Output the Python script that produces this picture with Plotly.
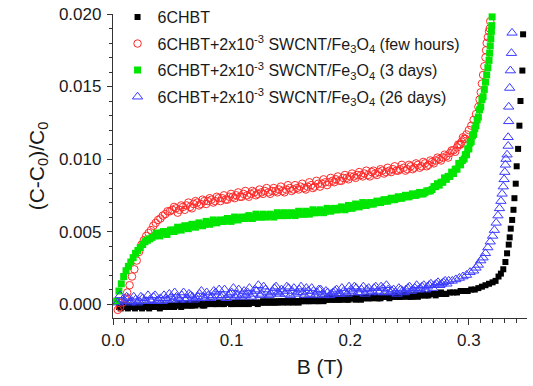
import plotly.graph_objects as go

# ---- data ----
black_B = [0.005,0.008,0.011,0.014,0.017,0.020,0.023,0.026,0.029,0.032,0.035,0.038,0.041,0.044,0.047,0.050,
           0.053,0.056,0.059,0.062,0.065,0.068,0.071,0.074,0.077,0.080,0.083,0.086,0.089,0.092,0.095,0.098,
           0.101,0.104,0.107,0.110,0.113,0.116,0.119,0.122,0.125,0.128,0.131,0.134,0.137,0.140,0.143,0.146,
           0.149,0.152,0.155,0.158,0.161,0.164,0.167,0.170,0.173,0.176,0.179,0.182,0.185,0.188,0.191,0.194,
           0.197,0.200,0.203,0.206,0.209,0.212,0.215,0.218,0.221,0.224,0.227,0.230,0.233,0.236,0.239,0.242,
           0.245,0.248,0.251,0.254,0.257,0.260,0.263,0.266,0.269,0.272,0.275,0.278,0.281,0.284,0.287,0.290,
           0.293,0.296,0.299,0.302,0.305,0.308,0.311,0.314,0.317,0.320,0.3225,0.325,0.327,0.329,0.3308,0.3322,
           0.3336,0.3344,0.3353,0.3365,0.3376,0.3384,0.3395,0.3403,0.3415,0.3426,0.3435,0.3451,0.3457]
black_C = [-0.0002,-0.0001,-0.0002,-0.0001,-0.0002,-0.0001,-0.0002,-0.0001,-0.0002,-0.0001,-0.0001,-0.0002,-0.0001,-0.0001,-0.0002,-0.0001,
           -0.0001,0.0000,-0.0001,0.0000,-0.0001,0.0000,0.0000,0.0000,-0.0001,0.0000,0.0001,0.0000,0.0001,0.0000,0.0001,0.0001,
           0.0000,0.0001,0.0001,0.0000,0.0001,0.0001,0.0001,0.0000,0.0001,0.0001,0.0002,0.0001,0.0001,0.0002,0.0001,0.0002,
           0.0002,0.0001,0.0002,0.0002,0.0002,0.0003,0.0002,0.0003,0.0002,0.0003,0.0003,0.0003,0.0004,0.0003,0.0003,0.0004,
           0.0003,0.0004,0.0004,0.0004,0.0003,0.0004,0.0004,0.0004,0.0005,0.0004,0.0005,0.0005,0.0004,0.0005,0.0005,0.0005,
           0.0006,0.0005,0.0005,0.0006,0.0005,0.0006,0.0006,0.0006,0.0007,0.0006,0.0007,0.0007,0.0007,0.0008,0.0008,0.0008,
           0.0009,0.0009,0.0009,0.0010,0.0010,0.0011,0.0012,0.0013,0.0014,0.0015,0.0016,0.0019,0.0021,0.0024,0.0029,0.0035,
           0.0041,0.0046,0.0052,0.0058,0.0065,0.0073,0.0083,0.0095,0.0107,0.0123,0.0140,0.0161,0.0186]
black_more = [(0.0065,-0.0003),(0.0095,-0.0001),(0.0125,-0.0003),(0.0155,-0.0002),(0.0185,-0.0003),(0.0215,-0.0002),
              (0.0245,-0.0003),(0.0275,-0.0002),(0.0305,-0.0003),(0.0335,-0.0002),(0.0365,-0.0002),(0.0395,-0.0003),
              (0.0425,-0.0002),(0.0455,-0.0002),(0.0485,-0.0001),(0.0515,-0.0002),(0.0545,-0.0001),(0.0575,-0.0002),
              (0.0605,-0.0001),(0.0635,-0.0001),(0.0665,-0.0001),(0.0695,-0.0001),(0.0725,0.0000),(0.0755,-0.0001),
              (0.0785,0.0000),(0.0815,0.0001),(0.0845,0.0000),(0.0875,0.0000),(0.0905,0.0001),(0.0935,0.0000),
              (0.0965,0.0001),(0.0995,0.0000),(0.1025,0.0001),(0.1055,0.0000),(0.1085,0.0001),(0.1115,0.0001),
              (0.1145,0.0000),(0.1175,0.0001),(0.1205,0.0001),(0.1235,0.0001),(0.1265,0.0002),(0.1295,0.0001),
              (0.1325,0.0001),(0.1355,0.0002),(0.1385,0.0001),(0.1415,0.0002),(0.1445,0.0002),(0.1475,0.0001),
              (0.1505,0.0002),(0.1535,0.0002),(0.1565,0.0001),(0.1595,0.0003),(0.1625,0.0002),(0.1655,0.0002),
              (0.1685,0.0003),(0.1715,0.0002),(0.1745,0.0003),(0.1775,0.0002),(0.1805,0.0004),(0.1835,0.0003),
              (0.1865,0.0003),(0.1895,0.0004),(0.1925,0.0003),(0.1955,0.0004),(0.1985,0.0003),(0.2015,0.0004),
              (0.2045,0.0003),(0.2075,0.0004),(0.2105,0.0004),(0.2135,0.0005),(0.2165,0.0004),(0.2195,0.0005),
              (0.2225,0.0004),(0.2255,0.0004),(0.2285,0.0005),(0.2315,0.0005),(0.2345,0.0005),(0.2375,0.0006),
              (0.2405,0.0005),(0.2435,0.0005),(0.2465,0.0006),(0.2495,0.0006),(0.2525,0.0005),(0.2555,0.0006),
              (0.2585,0.0006),(0.2615,0.0007),(0.2645,0.0006),(0.2675,0.0007),(0.2705,0.0007),(0.2735,0.0007),
              (0.2765,0.0008),(0.2795,0.0007)]

red_B = [0.004,0.006,0.008,0.010,0.012,0.014,0.016,0.018,0.020,0.022,0.024,0.026,0.028,0.030,0.032,0.034,
         0.036,0.038,0.040,0.042,0.044,0.046,0.048,0.050,0.053,0.056,0.059,0.062,0.065,0.068,0.071,0.074,
         0.077,0.080,0.083,0.086,0.089,0.092,0.095,0.098,0.101,0.104,0.107,0.110,0.113,0.116,0.119,0.122,
         0.125,0.128,0.131,0.134,0.137,0.140,0.143,0.146,0.149,0.152,0.155,0.158,0.161,0.164,0.167,0.170,
         0.173,0.176,0.179,0.182,0.185,0.188,0.191,0.194,0.197,0.200,0.203,0.206,0.209,0.212,0.215,0.218,
         0.221,0.224,0.227,0.230,0.233,0.236,0.239,0.242,0.245,0.248,0.251,0.254,0.257,0.260,0.263,0.266,
         0.269,0.272,0.275,0.278,0.281,0.284,0.287,0.290,0.292,0.294,0.296,0.298,0.300,0.302,0.304,0.306,
         0.308,0.309,0.310,0.311,0.312,0.313,0.314,0.3145,0.315,0.316,0.317,0.3176,0.318]
red_C = [-0.0004,-0.0002,0.0001,0.0004,0.0008,0.0013,0.0019,0.0024,0.0030,0.0036,0.0041,0.0044,0.0047,0.0049,0.0051,0.0054,
         0.0056,0.0058,0.0059,0.0061,0.0062,0.0064,0.0064,0.0065,0.0066,0.0065,0.0067,0.0068,0.0067,0.0069,0.0070,0.0069,
         0.0071,0.0071,0.0072,0.0071,0.0073,0.0073,0.0072,0.0074,0.0074,0.0075,0.0074,0.0076,0.0075,0.0076,0.0077,0.0076,
         0.0077,0.0078,0.0077,0.0078,0.0078,0.0079,0.0078,0.0079,0.0080,0.0079,0.0080,0.0081,0.0080,0.0081,0.0082,0.0081,
         0.0083,0.0083,0.0084,0.0084,0.0085,0.0086,0.0085,0.0087,0.0087,0.0088,0.0088,0.0089,0.0089,0.0090,0.0089,0.0091,
         0.0090,0.0091,0.0092,0.0091,0.0092,0.0093,0.0092,0.0093,0.0094,0.0093,0.0095,0.0094,0.0096,0.0095,0.0097,0.0096,
         0.0098,0.0099,0.0100,0.0101,0.0102,0.0104,0.0106,0.0108,0.0110,0.0112,0.0114,0.0117,0.0120,0.0123,0.0127,0.0131,
         0.0136,0.0141,0.0146,0.0152,0.0158,0.0164,0.0170,0.0175,0.0180,0.0184,0.0188,0.0190,0.0195]
red_more = [(0.0515,0.0067),(0.0545,0.0063),(0.0575,0.0068),(0.0605,0.0065),(0.0635,0.0070),(0.0665,0.0066),
            (0.0695,0.0071),(0.0725,0.0068),(0.0755,0.0072),(0.0785,0.0069),(0.0815,0.0073),(0.0845,0.0070),
            (0.0875,0.0074),(0.0905,0.0071),(0.0935,0.0075),(0.0965,0.0072),(0.0995,0.0076),(0.1025,0.0073),
            (0.1055,0.0077),(0.1085,0.0074),(0.1115,0.0078),(0.1145,0.0074),(0.1175,0.0078),(0.1205,0.0075),
            (0.1235,0.0079),(0.1265,0.0076),(0.1295,0.0080),(0.1325,0.0076),(0.1355,0.0080),(0.1385,0.0077),
            (0.1415,0.0081),(0.1445,0.0077),(0.1475,0.0082),(0.1505,0.0078),(0.1535,0.0082),(0.1565,0.0079),
            (0.1595,0.0083),(0.1625,0.0079),(0.1655,0.0084),(0.1685,0.0080),(0.1715,0.0085),(0.1745,0.0081),
            (0.1775,0.0086),(0.1805,0.0082),(0.1835,0.0087),(0.1865,0.0084),(0.1895,0.0088),(0.1925,0.0085),
            (0.1955,0.0089),(0.1985,0.0086),(0.2015,0.0090),(0.2045,0.0087),(0.2075,0.0091),(0.2105,0.0088),
            (0.2135,0.0092),(0.2165,0.0088),(0.2195,0.0092),(0.2225,0.0089),(0.2255,0.0093),(0.2285,0.0090),
            (0.2315,0.0094),(0.2345,0.0091),(0.2375,0.0095),(0.2405,0.0092),(0.2435,0.0096),(0.2465,0.0092),
            (0.2495,0.0096),(0.2525,0.0093),(0.2555,0.0097),(0.2585,0.0094),(0.2615,0.0098),(0.2645,0.0095),
            (0.2675,0.0099),(0.2705,0.0097),(0.2735,0.0101),(0.2765,0.0099),(0.2795,0.0103),(0.2825,0.0101),
            (0.2855,0.0106),(0.2885,0.0105),(0.2910,0.0110),(0.2930,0.0110),(0.2950,0.0115),(0.2970,0.0114)]

green_B = [0.003,0.005,0.007,0.009,0.011,0.013,0.015,0.017,0.019,0.021,0.023,0.025,0.027,0.029,0.031,0.033,
           0.035,0.038,0.041,0.044,0.047,0.050,0.053,0.056,0.059,0.062,0.065,0.068,0.071,0.074,0.077,0.080,
           0.083,0.086,0.089,0.092,0.095,0.098,0.101,0.104,0.107,0.110,0.113,0.116,0.119,0.122,0.125,0.128,
           0.131,0.134,0.137,0.140,0.143,0.146,0.149,0.152,0.155,0.158,0.161,0.164,0.167,0.170,0.173,0.176,
           0.179,0.182,0.185,0.188,0.191,0.194,0.197,0.200,0.203,0.206,0.209,0.212,0.215,0.218,0.221,0.224,
           0.227,0.230,0.233,0.236,0.239,0.242,0.245,0.248,0.251,0.254,0.257,0.260,0.263,0.266,0.269,0.272,
           0.275,0.278,0.281,0.284,0.287,0.290,0.293,0.296,0.298,0.300,0.302,0.304,0.306,0.308,0.310,0.312,
           0.313,0.314,0.315,0.316,0.317,0.3175,0.318,0.3185,0.319,0.3193,0.3196]
green_C = [0.0002,0.0009,0.0014,0.0019,0.0023,0.0026,0.0029,0.0032,0.0035,0.0037,0.0039,0.0041,0.0043,0.0044,0.0045,0.0046,
           0.0047,0.0048,0.0049,0.0049,0.0050,0.0051,0.0051,0.0052,0.0053,0.0053,0.0054,0.0054,0.0055,0.0055,0.0055,0.0056,
           0.0056,0.0057,0.0057,0.0057,0.0058,0.0058,0.0058,0.0059,0.0059,0.0059,0.0060,0.0060,0.0060,0.0061,0.0060,0.0061,
           0.0061,0.0061,0.0061,0.0062,0.0061,0.0062,0.0062,0.0062,0.0062,0.0063,0.0062,0.0063,0.0063,0.0063,0.0064,0.0064,
           0.0064,0.0065,0.0065,0.0065,0.0066,0.0066,0.0066,0.0067,0.0067,0.0068,0.0068,0.0068,0.0069,0.0069,0.0070,0.0070,
           0.0071,0.0071,0.0072,0.0072,0.0073,0.0073,0.0074,0.0074,0.0075,0.0075,0.0076,0.0076,0.0077,0.0078,0.0079,0.0081,
           0.0082,0.0084,0.0086,0.0088,0.0090,0.0093,0.0096,0.0100,0.0103,0.0107,0.0112,0.0117,0.0123,0.0129,0.0136,0.0143,
           0.0148,0.0153,0.0158,0.0163,0.0168,0.0173,0.0178,0.0183,0.0188,0.0192,0.0198]
green_more = [(0.0365,0.0049),(0.0395,0.0047),(0.0425,0.0050),(0.0455,0.0048),(0.0485,0.0051),(0.0515,0.0050),
              (0.0545,0.0053),(0.0575,0.0051),(0.0605,0.0054),(0.0635,0.0052),(0.0665,0.0055),(0.0695,0.0053),
              (0.0725,0.0056),(0.0755,0.0054),(0.0785,0.0057),(0.0815,0.0055),(0.0845,0.0058),(0.0875,0.0056),
              (0.0905,0.0058),(0.0935,0.0057),(0.0965,0.0059),(0.0995,0.0057),(0.1025,0.0060),(0.1055,0.0058),
              (0.1085,0.0060),(0.1115,0.0059),(0.1145,0.0061),(0.1175,0.0059),(0.1205,0.0062),(0.1235,0.0060),
              (0.1265,0.0062),(0.1295,0.0060),(0.1325,0.0062),(0.1355,0.0060),(0.1385,0.0063),(0.1415,0.0061),
              (0.1445,0.0063),(0.1475,0.0061),(0.1505,0.0063),(0.1535,0.0061),(0.1565,0.0064),(0.1595,0.0062),
              (0.1625,0.0064),(0.1655,0.0062),(0.1685,0.0065),(0.1715,0.0063),(0.1745,0.0065),(0.1775,0.0063),
              (0.1805,0.0066),(0.1835,0.0064),(0.1865,0.0066),(0.1895,0.0065),(0.1925,0.0067),(0.1955,0.0065),
              (0.1985,0.0068),(0.2015,0.0066),(0.2045,0.0069),(0.2075,0.0067),(0.2105,0.0070),(0.2135,0.0068),
              (0.2165,0.0070),(0.2195,0.0069),(0.2225,0.0071),(0.2255,0.0070),(0.2285,0.0072),(0.2315,0.0071),
              (0.2345,0.0073),(0.2375,0.0072),(0.2405,0.0074),(0.2435,0.0073),(0.2465,0.0075),(0.2495,0.0074),
              (0.2525,0.0076),(0.2555,0.0075),(0.2585,0.0077),(0.2615,0.0076),(0.2645,0.0078),(0.2675,0.0078),
              (0.2705,0.0081),(0.2735,0.0083),(0.2765,0.0084),(0.2795,0.0087),(0.2825,0.0088),(0.2855,0.0091),
              (0.2885,0.0093),(0.2915,0.0097),(0.2945,0.0099),(0.2970,0.0103),(0.2990,0.0107),(0.3010,0.0111),
              (0.3030,0.0116),(0.3050,0.0121),(0.3070,0.0127),(0.3090,0.0134),(0.3110,0.0141)]

blue_B = [0.004,0.006,0.008,0.010,0.013,0.016,0.019,0.022,0.025,0.028,0.031,0.034,0.037,0.040,0.043,0.046,
          0.049,0.052,0.055,0.058,0.061,0.064,0.067,0.070,0.073,0.076,0.079,0.082,0.085,0.088,0.091,0.094,
          0.097,0.100,0.103,0.106,0.109,0.112,0.115,0.118,0.121,0.124,0.127,0.130,0.133,0.136,0.139,0.142,
          0.145,0.148,0.151,0.154,0.157,0.160,0.163,0.166,0.169,0.172,0.175,0.178,0.181,0.184,0.187,0.190,
          0.193,0.196,0.199,0.202,0.205,0.208,0.211,0.214,0.217,0.220,0.223,0.226,0.229,0.232,0.235,0.238,
          0.241,0.244,0.247,0.250,0.253,0.256,0.259,0.262,0.265,0.268,0.271,0.274,0.277,0.280,0.283,0.286,
          0.289,0.292,0.295,0.298,0.301,0.304,0.306,0.308,0.310,0.312,0.314,0.316,0.318,0.320,0.3215,0.323,
          0.3245,0.3258,0.327,0.328,0.329,0.3297,0.3303,0.3308,0.3313,0.3322,0.3331,0.3331,0.3336,0.3336,0.3344,0.3350,
          0.3359,0.3364]
blue_C = [0.0001,0.0006,0.0003,0.0002,0.0004,0.0002,0.0003,0.0002,0.0004,0.0002,0.0003,0.0005,0.0002,0.0004,0.0006,0.0003,
          0.0005,0.0008,0.0004,0.0006,0.0003,0.0007,0.0005,0.0004,0.0007,0.0005,0.0008,0.0004,0.0009,0.0006,0.0005,0.0010,
          0.0006,0.0008,0.0005,0.0010,0.0007,0.0006,0.0011,0.0007,0.0009,0.0006,0.0012,0.0008,0.0007,0.0011,0.0008,0.0010,
          0.0007,0.0011,0.0009,0.0007,0.0010,0.0008,0.0011,0.0007,0.0009,0.0008,0.0010,0.0006,0.0008,0.0007,0.0009,0.0007,
          0.0011,0.0008,0.0012,0.0009,0.0011,0.0008,0.0012,0.0010,0.0008,0.0011,0.0009,0.0012,0.0008,0.0010,0.0009,0.0008,
          0.0011,0.0009,0.0010,0.0012,0.0010,0.0013,0.0011,0.0013,0.0012,0.0014,0.0013,0.0015,0.0014,0.0016,0.0016,0.0016,
          0.0017,0.0018,0.0019,0.0020,0.0022,0.0023,0.0025,0.0027,0.0030,0.0032,0.0035,0.0039,0.0043,0.0047,0.0051,0.0056,
          0.0061,0.0066,0.0071,0.0076,0.0081,0.0086,0.0091,0.0096,0.0100,0.0103,0.0109,0.0115,0.0126,0.0136,0.0149,0.0161,
          0.0173,0.0187]
blue_more = [(0.0115,0.0005),(0.0145,0.0001),(0.0175,0.0005),(0.0205,0.0001),(0.0235,0.0005),(0.0265,0.0002),
             (0.0295,0.0006),(0.0325,0.0002),(0.0355,0.0006),(0.0385,0.0003),(0.0415,0.0002),(0.0445,0.0004),
             (0.0475,0.0007),(0.0505,0.0003),(0.0535,0.0005),(0.0565,0.0003),(0.0595,0.0008),(0.0625,0.0004),
             (0.0655,0.0006),(0.0685,0.0003),(0.0715,0.0005),(0.0745,0.0009),(0.0775,0.0004),(0.0805,0.0006),
             (0.0835,0.0005),(0.0865,0.0008),(0.0895,0.0010),(0.0925,0.0006),(0.0955,0.0004),(0.0985,0.0007),
             (0.1015,0.0011),(0.1045,0.0006),(0.1075,0.0005),(0.1105,0.0009),(0.1135,0.0008),(0.1165,0.0005),
             (0.1195,0.0010),(0.1225,0.0013),(0.1255,0.0007),(0.1285,0.0010),(0.1315,0.0006),(0.1345,0.0009),
             (0.1375,0.0012),(0.1405,0.0007),(0.1435,0.0009),(0.1465,0.0012),(0.1495,0.0006),(0.1525,0.0011),
             (0.1555,0.0008),(0.1585,0.0012),(0.1615,0.0006),(0.1645,0.0009),(0.1675,0.0011),(0.1705,0.0006),
             (0.1735,0.0010),(0.1765,0.0007),(0.1795,0.0009),(0.1825,0.0006),(0.1855,0.0008),(0.1885,0.0010),
             (0.1915,0.0007),(0.1945,0.0009),(0.1975,0.0007),(0.2005,0.0010),(0.2035,0.0012),(0.2065,0.0008),
             (0.2095,0.0010),(0.2125,0.0007),(0.2155,0.0011),(0.2185,0.0009),(0.2215,0.0012),(0.2245,0.0008),
             (0.2275,0.0011),(0.2305,0.0013),(0.2335,0.0008),(0.2365,0.0010),(0.2395,0.0007),(0.2425,0.0010),
             (0.2455,0.0008),(0.2485,0.0011),(0.2515,0.0009),(0.2545,0.0011),(0.2575,0.0010),(0.2605,0.0012),
             (0.2635,0.0010),(0.2665,0.0013),(0.2695,0.0011),(0.2725,0.0014),(0.2755,0.0013),(0.2785,0.0015),
             (0.2815,0.0014)]

names = ["6CHBT",
         "6CHBT+2x10<sup>-3</sup> SWCNT/Fe<sub>3</sub>O<sub>4</sub> (few hours)",
         "6CHBT+2x10<sup>-3</sup> SWCNT/Fe<sub>3</sub>O<sub>4</sub> (3 days)",
         "6CHBT+2x10<sup>-3</sup> SWCNT/Fe<sub>3</sub>O<sub>4</sub> (26 days)"]

FONT = "Arial, Liberation Sans, sans-serif"


def merged(bs, cs, extra):
    pts = sorted(list(zip(bs, cs)) + list(extra))
    return [p[0] for p in pts], [p[1] for p in pts]


bx, by = merged(black_B, black_C, black_more)
rx, ry = merged(red_B, red_C, red_more)
gx, gy = merged(green_B, green_C, green_more)
ux, uy = merged(blue_B, blue_C, blue_more)

fig = go.Figure()
fig.add_trace(go.Scatter(x=bx, y=by, mode="markers", name=names[0], legendgroup="a",
                         marker=dict(symbol="square", size=6, color="#000000", line=dict(width=0)),
                         cliponaxis=False))
fig.add_trace(go.Scatter(x=rx, y=ry, mode="markers", name=names[1], legendgroup="b",
                         marker=dict(symbol="circle-open", size=7.5, color="#ff2a2a", line=dict(width=1)),
                         cliponaxis=False))
fig.add_trace(go.Scatter(x=gx, y=gy, mode="markers", name=names[2], legendgroup="c",
                         marker=dict(symbol="square", size=7, color="#00e600", line=dict(width=0)),
                         cliponaxis=False))
fig.add_trace(go.Scatter(x=ux, y=uy, mode="markers", name=names[3], legendgroup="d",
                         marker=dict(symbol="triangle-up-open", size=9, color="#3a3aff", line=dict(width=1)),
                         cliponaxis=False))

fig.update_layout(
    width=533, height=386,
    margin=dict(l=113, r=6, t=14, b=68, autoexpand=False),
    paper_bgcolor="white", plot_bgcolor="white",
    font=dict(family=FONT, size=17, color="#1a1a1a"),
    showlegend=True,
    legend=dict(x=0.011, y=1.046, xanchor="left", yanchor="top",
                bgcolor="rgba(0,0,0,0)", borderwidth=0,
                font=dict(family=FONT, size=16, color="#1a1a1a"),
                tracegroupgap=2.8, itemwidth=30, traceorder="grouped"),
    xaxis=dict(range=[0, 0.349], showgrid=False, zeroline=False, automargin=False,
               showline=True, linecolor="#333333", linewidth=1.3,
               ticks="outside", ticklen=6, tickwidth=1.2, tickcolor="#333333",
               tickvals=[0.0, 0.1, 0.2, 0.3], ticktext=["0.0", "0.1", "0.2", "0.3"],
               minor=dict(dtick=0.01, tick0=0, ticks="outside", ticklen=3.5, tickwidth=1, tickcolor="#333333"),
               tickfont=dict(size=17),
               title=dict(text="B (T)", font=dict(size=21), standoff=10)),
    yaxis=dict(range=[-0.00096, 0.020], showgrid=False, zeroline=False, automargin=False,
               showline=True, linecolor="#333333", linewidth=1.3,
               ticks="outside", ticklen=5, tickwidth=1.2, tickcolor="#333333",
               tickvals=[0.0, 0.005, 0.010, 0.015, 0.020],
               ticktext=["0.000", "0.005", "0.010", "0.015", "0.020"],
               minor=dict(dtick=0.001, tick0=0, ticks="outside", ticklen=3, tickwidth=1, tickcolor="#333333"),
               tickfont=dict(size=17), ticklabelstandoff=2,
               title=dict(text="(C-C<sub>0</sub>)/C<sub>0</sub>", font=dict(size=21), standoff=8)),
)

fig.write_html("out.html", config={"displayModeBar": False},
               post_script="document.body.style.margin='0';document.body.style.overflow='hidden';")
